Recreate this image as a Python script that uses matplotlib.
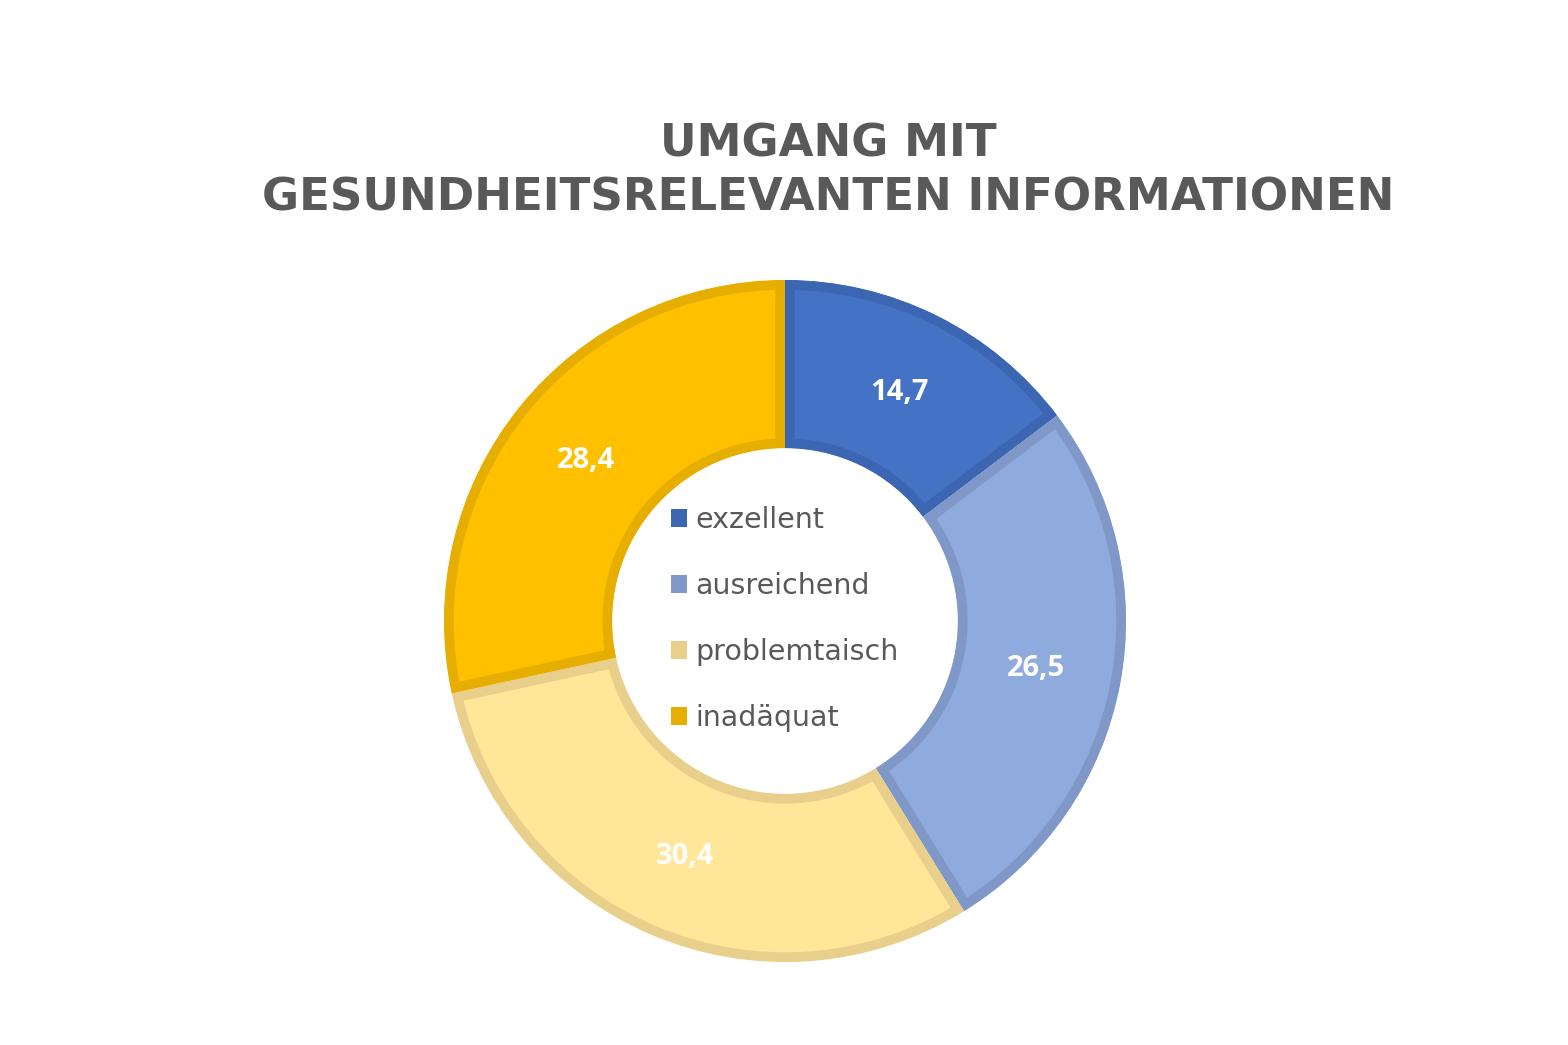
import numpy as np
import matplotlib.pyplot as plt
from matplotlib.patches import Patch

categories = ["exzellent", "ausreichend", "problemtaisch", "inadäquat"]
values = [14.7, 26.5, 30.4, 28.4]
labels = ["14,7", "26,5", "30,4", "28,4"]
title = "UMGANG MIT\nGESUNDHEITSRELEVANTEN INFORMATIONEN"

fill_colors = ["#4472C4", "#8FAADC", "#FFE699", "#FFC000"]
edge_colors = ["#3C66B1", "#7F98C8", "#E8D08C", "#E6AE00"]

W, H = 1568, 1045
fig = plt.figure(figsize=(W / 100, H / 100), dpi=100)

# donut centre and outer radius in pixels
cx, cy, r = 785, 621, 341
pad = 1.05
size = 2 * r * pad
ax = fig.add_axes([(cx - size / 2) / W, (H - cy - size / 2) / H, size / W, size / H])

wedges, _ = ax.pie(values, radius=1, startangle=90, counterclock=False,
                   colors=fill_colors,
                   wedgeprops=dict(width=0.493, linewidth=14))
for w, ec in zip(wedges, edge_colors):
    # inner stroke: clip the outline to the wedge itself
    w.set_edgecolor(ec)
    w.set_clip_on(True)
    w.set_clip_path(w)

# value labels in the middle of each ring segment
start = 90.0
for v, lab in zip(values, labels):
    mid = np.deg2rad(start - v * 3.6 / 2)
    start -= v * 3.6
    ax.text(0.75 * np.cos(mid), 0.75 * np.sin(mid), lab, ha="center", va="center",
            color="white", fontsize=21, fontweight="bold", family="Open Sans")

ax.set_xlim(-pad, pad)
ax.set_ylim(-pad, pad)
ax.set_aspect("equal")
ax.axis("off")

fig.text(828 / W, 1 - 171 / H, title, ha="center", va="center",
         fontsize=32.5, fontweight="bold", color="#595959", family="DejaVu Sans",
         linespacing=1.33)

handles = [Patch(facecolor=c, edgecolor="none") for c in edge_colors]
leg = fig.legend(handles, categories, loc="center left",
                 bbox_to_anchor=(671 / W, 1 - 619 / H), frameon=False,
                 borderaxespad=0, borderpad=0,
                 handlelength=0.57, handleheight=0.57, handletextpad=0.28,
                 labelspacing=1.33, prop=dict(family="DejaVu Sans", size=20.5))
for t in leg.get_texts():
    t.set_color("#595959")

fig.savefig("out.png", dpi=100, facecolor="white")
